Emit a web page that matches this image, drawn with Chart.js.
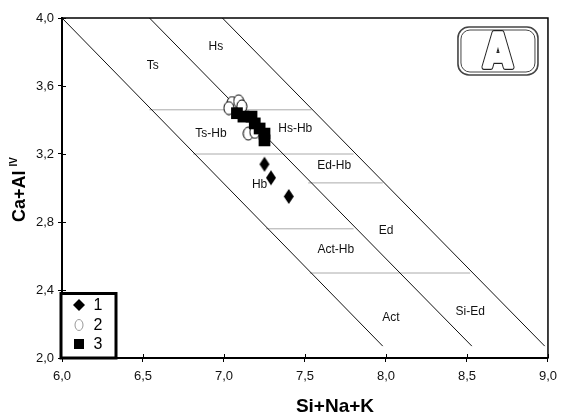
<!DOCTYPE html>
<html>
<head>
<meta charset="utf-8">
<script src="https://cdn.jsdelivr.net/npm/chart.js@4.4.1/dist/chart.umd.min.js"></script>
<style>
  html, body { margin: 0; padding: 0; background: #fff; }
</style>
</head>
<body>
<canvas id="myChart" width="564" height="414"></canvas>
<script>
// samples
const seriesNames = ['1', '2', '3'];
const s1X = [7.25, 7.29, 7.40];
const s1Y = [3.14, 3.06, 2.95];
const s2X = [7.05, 7.09, 7.03, 7.11, 7.15, 7.19];
const s2Y = [3.50, 3.51, 3.47, 3.48, 3.32, 3.33];
const s3X = [7.08, 7.12, 7.17, 7.19, 7.22, 7.25, 7.25];
const s3Y = [3.44, 3.42, 3.42, 3.38, 3.35, 3.32, 3.28];

// field boundaries
const diagX = [[6.00, 7.98], [6.54, 8.53], [6.99, 8.98]];
const diagY = [[4.00, 2.07], [4.00, 2.07], [4.00, 2.07]];
const horizY = [3.46, 3.20, 3.03, 2.76, 2.50];
const horizX = [[6.54, 7.54], [6.81, 7.80], [7.52, 7.98], [7.26, 7.80], [7.53, 8.52]];

// field names
const fieldNames = ['Ts', 'Hs', 'Ts-Hb', 'Hs-Hb', 'Ed-Hb', 'Hb', 'Ed', 'Act-Hb', 'Act', 'Si-Ed'];
const fieldX = [6.56, 6.95, 6.92, 7.44, 7.68, 7.22, 8.00, 7.69, 8.03, 8.52];
const fieldY = [3.72, 3.83, 3.32, 3.35, 3.13, 3.02, 2.75, 2.64, 2.24, 2.27];

const xTitle = 'Si+Na+K';
const yTitle = 'Ca+Al';
const ySub = 'IV';
const panelTag = 'A';

const FONT = '"Liberation Sans", Arial, sans-serif';

function pts(xs, ys) {
  return xs.map((x, i) => ({x: x, y: ys[i]}));
}

// marker shapes
function diamondImg(w, h) {
  const c = document.createElement('canvas');
  c.width = w + 2; c.height = h + 2;
  const g = c.getContext('2d');
  g.fillStyle = '#000';
  g.beginPath();
  g.moveTo(c.width / 2, 1);
  g.lineTo(c.width - 1, c.height / 2);
  g.lineTo(c.width / 2, c.height - 1);
  g.lineTo(1, c.height / 2);
  g.closePath();
  g.fill();
  return c;
}
function ovalImg(w, h) {
  const c = document.createElement('canvas');
  c.width = w + 2; c.height = h + 2;
  const g = c.getContext('2d');
  g.fillStyle = '#fff';
  g.strokeStyle = '#000';
  g.lineWidth = 1;
  g.beginPath();
  g.ellipse(c.width / 2, c.height / 2, w / 2, h / 2, 0, 0, Math.PI * 2);
  g.fill();
  g.stroke();
  return c;
}

let datasets = [];
diagX.forEach((xs, i) => {
  datasets.push({data: pts(xs, diagY[i]), showLine: true, borderColor: '#111', borderWidth: 1,
    pointRadius: 0, order: 10});
});
horizY.forEach((y, i) => {
  datasets.push({data: pts(horizX[i], [y, y]), showLine: true, borderColor: '#aaa', borderWidth: 1,
    pointRadius: 0, order: 10});
});
datasets.push({label: seriesNames[1], data: pts(s2X, s2Y), pointStyle: ovalImg(10, 13), order: 3});
datasets.push({label: seriesNames[2], data: pts(s3X, s3Y), pointStyle: 'rect', pointRadius: 8.3,
  backgroundColor: '#000', borderColor: '#000', borderWidth: 0, order: 2});
datasets.push({label: seriesNames[0], data: pts(s1X, s1Y), pointStyle: diamondImg(10, 15), order: 1});

const overlay = {
  id: 'overlay',
  beforeDatasetsDraw(chart) {
    const ctx = chart.ctx, xs = chart.scales.x, ys = chart.scales.y;
    ctx.save();
    ctx.fillStyle = '#111';
    ctx.font = '12px ' + FONT;
    ctx.textAlign = 'center';
    ctx.textBaseline = 'middle';
    fieldNames.forEach((t, i) => {
      ctx.fillText(t, xs.getPixelForValue(fieldX[i]), ys.getPixelForValue(fieldY[i]));
    });
    ctx.restore();
  },
  afterDraw(chart) {
    const ctx = chart.ctx, a = chart.chartArea, xs = chart.scales.x, ys = chart.scales.y;
    ctx.save();
    // frame
    ctx.strokeStyle = '#000';
    ctx.lineWidth = 1.5;
    ctx.strokeRect(a.left, a.top, a.right - a.left, a.bottom - a.top);
    // ticks crossing into the plot
    ctx.lineWidth = 1;
    xs.ticks.forEach(t => {
      const px = Math.round(xs.getPixelForValue(t.value)) + 0.5;
      ctx.beginPath(); ctx.moveTo(px, a.bottom); ctx.lineTo(px, a.bottom - 4); ctx.stroke();
    });
    ys.ticks.forEach(t => {
      const py = Math.round(ys.getPixelForValue(t.value)) + 0.5;
      ctx.beginPath(); ctx.moveTo(a.left, py); ctx.lineTo(a.left + 4, py); ctx.stroke();
    });

    // legend box
    ctx.fillStyle = '#fff';
    ctx.fillRect(a.left, a.bottom - 65, 54, 65);
    ctx.lineWidth = 3;
    ctx.strokeStyle = '#000';
    ctx.strokeRect(a.left - 1, a.bottom - 64.5, 55, 64.5);
    const lx = a.left + 17, tx = a.left + 36;
    const rows = [a.bottom - 53, a.bottom - 33, a.bottom - 14];
    ctx.fillStyle = '#000';
    ctx.beginPath();
    ctx.moveTo(lx, rows[0] - 6); ctx.lineTo(lx + 6, rows[0]); ctx.lineTo(lx, rows[0] + 6); ctx.lineTo(lx - 6, rows[0]);
    ctx.closePath(); ctx.fill();
    ctx.strokeStyle = '#999';
    ctx.lineWidth = 1;
    ctx.beginPath(); ctx.ellipse(lx, rows[1], 4, 5.5, 0, 0, Math.PI * 2); ctx.stroke();
    ctx.fillRect(lx - 5, rows[2] - 5, 10, 10);
    ctx.font = '16px ' + FONT;
    ctx.textAlign = 'center';
    ctx.textBaseline = 'middle';
    seriesNames.forEach((n, i) => ctx.fillText(n, tx, rows[i] + 1));

    // panel tag
    ctx.strokeStyle = '#444';
    ctx.lineWidth = 1.6;
    ctx.beginPath(); ctx.roundRect(a.right - 90, a.top + 9, 80, 48, 11); ctx.stroke();
    ctx.lineWidth = 1;
    ctx.beginPath(); ctx.roundRect(a.right - 87, a.top + 12, 74, 42, 9); ctx.stroke();
    ctx.save();
    ctx.translate(a.right - 50, a.top + 49);
    ctx.scale(0.8, 1);
    ctx.font = 'bold 46px "DejaVu Sans", sans-serif';
    ctx.textAlign = 'center';
    ctx.textBaseline = 'alphabetic';
    ctx.lineJoin = 'round';
    ctx.strokeStyle = '#222';
    ctx.lineWidth = 6;
    ctx.strokeText(panelTag, 0, 0);
    ctx.strokeStyle = '#fff';
    ctx.lineWidth = 3.6;
    ctx.strokeText(panelTag, 0, 0);
    ctx.fillStyle = '#fff';
    ctx.fillText(panelTag, 0, 0);
    ctx.restore();

    // axis titles
    ctx.fillStyle = '#000';
    ctx.font = 'bold 19px ' + FONT;
    ctx.textAlign = 'center';
    ctx.textBaseline = 'alphabetic';
    ctx.fillText(xTitle, (a.left + a.right) / 2 + 30, 412);
    ctx.save();
    ctx.translate(25, 222);
    ctx.rotate(-Math.PI / 2);
    ctx.font = 'bold 18px ' + FONT;
    ctx.textAlign = 'left';
    ctx.fillText(yTitle, 0, 0);
    const w = ctx.measureText(yTitle).width;
    ctx.font = 'bold 10px ' + FONT;
    ctx.fillText(ySub, w + 4, -8);
    ctx.restore();
    ctx.restore();
  }
};

const tickFmt = v => Number(v).toFixed(1).replace('.', ',');

new Chart(document.getElementById('myChart'), {
  type: 'scatter',
  data: {datasets: datasets},
  plugins: [overlay],
  options: {
    responsive: false,
    animation: false,
    devicePixelRatio: 1,
    layout: {padding: {top: 18, right: 12, left: 0, bottom: 0}},
    plugins: {legend: {display: false}, tooltip: {enabled: false}},
    scales: {
      x: {
        type: 'linear', min: 6, max: 9,
        afterFit: s => { s.height = 56; },
        border: {color: '#000', width: 2},
        grid: {drawOnChartArea: false, color: '#000', tickLength: 4},
        ticks: {stepSize: 0.5, callback: tickFmt, color: '#111', padding: 7,
          font: {family: FONT, size: 13}}
      },
      y: {
        type: 'linear', min: 2, max: 4,
        afterFit: s => { s.width = 62; },
        border: {color: '#000', width: 2},
        grid: {drawOnChartArea: false, color: '#000', tickLength: 4},
        ticks: {stepSize: 0.4, callback: tickFmt, color: '#111', padding: 4,
          font: {family: FONT, size: 13}}
      }
    }
  }
});
</script>
</body>
</html>
